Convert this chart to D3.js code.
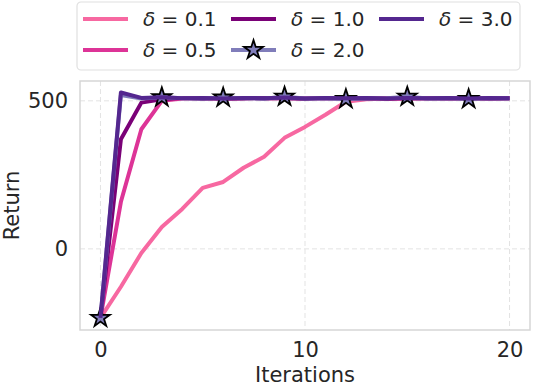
<!DOCTYPE html>
<html>
<head>
<meta charset="UTF-8">
<title>Return vs Iterations</title>
<script src="https://d3js.org/d3.v7.min.js"></script>
<style>
 body { margin: 0; background: #fff; }
 text { font-family: "DejaVu Sans", sans-serif; fill: #262626; }
</style>
</head>
<body>
<script>
// data
var iterations = [0,1,2,3,4,5,6,7,8,9,10,11,12,13,14,15,16,17,18,19,20];
var deltas = ["0.1", "0.5", "1.0", "2.0", "3.0"];
var colors = ["#f768a1", "#dd3497", "#7a0177", "#807dba", "#54278f"];
var ret01 = [-233,-128,-14,74,135,206,226,274,311,375,412,453,497,505,508,507,510,508,509,507,508];
var ret05 = [-233,159,404,500,508,510,507,509,508,510,509,508,510,507,509,508,510,508,509,508,510];
var ret10 = [-233,370,494,505,510,507,509,508,510,509,507,510,508,509,507,510,508,509,510,508,509];
var ret20 = [-233,520,508,512,509,508,511,509,507,514,508,509,506,508,509,514,508,509,506,509,508];
var ret30 = [-233,528,510,512,509,510,508,510,509,511,508,510,509,510,508,510,509,510,508,510,509];
var series = [ret01, ret05, ret10, ret20, ret30];
var xTicks = [0, 10, 20];
var yTicks = [0, 500];
var markEvery = 3;

var W = 534, H = 386;
var mLeft = 80, mRight = 530, mTop = 81, mBottom = 330;

var svg = d3.select("body").append("svg")
  .attr("width", W).attr("height", H);

var x = d3.scaleLinear().domain([-1, 21]).range([mLeft, mRight]);
var y = d3.scaleLinear().domain([-274, 567]).range([mBottom, mTop]);

// grid
svg.append("g").selectAll("line").data(xTicks).enter().append("line")
  .attr("x1", function(d) { return x(d); }).attr("x2", function(d) { return x(d); })
  .attr("y1", mTop).attr("y2", mBottom)
  .attr("stroke", "#e3e3e3").attr("stroke-width", 1).attr("stroke-dasharray", "5,3");
svg.append("g").selectAll("line").data(yTicks).enter().append("line")
  .attr("y1", function(d) { return y(d); }).attr("y2", function(d) { return y(d); })
  .attr("x1", mLeft).attr("x2", mRight)
  .attr("stroke", "#e3e3e3").attr("stroke-width", 1).attr("stroke-dasharray", "5,3");

// frame
svg.append("rect").attr("x", mLeft).attr("y", mTop)
  .attr("width", mRight - mLeft).attr("height", mBottom - mTop)
  .attr("fill", "none").attr("stroke", "#d6d6d6").attr("stroke-width", 1.5);

// axes
var xAxis = svg.append("g").attr("transform", "translate(0," + mBottom + ")")
  .call(d3.axisBottom(x).tickValues(xTicks).tickSize(0).tickPadding(12));
var yAxis = svg.append("g").attr("transform", "translate(" + mLeft + ",0)")
  .call(d3.axisLeft(y).tickValues(yTicks).tickSize(0).tickPadding(12));
[xAxis, yAxis].forEach(function(a) {
  a.select(".domain").remove();
  a.selectAll("text").attr("font-size", 21).attr("font-family", "DejaVu Sans").style("fill", "#262626");
});

svg.append("text").attr("x", (mLeft + mRight) / 2).attr("y", 382)
  .attr("text-anchor", "middle").attr("font-size", 21).text("Iterations");
svg.append("text").attr("transform", "translate(19," + ((mTop + mBottom) / 2) + ") rotate(-90)")
  .attr("text-anchor", "middle").attr("font-size", 21).text("Return");

// lines
var line = d3.line()
  .x(function(d, i) { return x(iterations[i]); })
  .y(function(d) { return y(d); });

var plot = svg.append("g");
series.forEach(function(s, k) {
  plot.append("path").datum(s)
    .attr("d", line)
    .attr("fill", "none")
    .attr("stroke", colors[k])
    .attr("stroke-width", 4)
    .attr("stroke-linejoin", "round");
  if (k === 3) {
    plot.selectAll(".star").data(s.filter(function(d, i) { return i % markEvery === 0; }))
      .enter().append("path")
      .attr("class", "star")
      .attr("transform", function(d, i) { return "translate(" + x(iterations[i * markEvery]) + "," + y(d) + ")"; })
      .attr("d", d3.symbol().type(d3.symbolStar).size(110))
      .attr("fill", colors[3]).attr("stroke", "#000").attr("stroke-width", 1.8);
  }
});

// legend
var lg = svg.append("g");
lg.append("rect").attr("x", 77).attr("y", 2).attr("width", 443).attr("height", 68)
  .attr("rx", 4).attr("fill", "#fff").attr("stroke", "#e0e0e0").attr("stroke-width", 1.2);
var colX = [83, 231, 379];
var rowY = [19, 50];
deltas.forEach(function(dl, k) {
  var cx = colX[Math.floor(k / 2)], cy = rowY[k % 2];
  lg.append("line").attr("x1", cx).attr("x2", cx + 45).attr("y1", cy).attr("y2", cy)
    .attr("stroke", colors[k]).attr("stroke-width", 4);
  if (k === 3) {
    lg.append("path").attr("transform", "translate(" + (cx + 22.5) + "," + cy + ")")
      .attr("d", d3.symbol().type(d3.symbolStar).size(110))
      .attr("fill", colors[3]).attr("stroke", "#000").attr("stroke-width", 1.8);
  }
  var t = lg.append("text").attr("x", cx + 60).attr("y", cy + 7).attr("font-size", 20);
  t.append("tspan").attr("font-style", "italic").text("δ");
  t.append("tspan").text(" = " + dl);
});
</script>
</body>
</html>
